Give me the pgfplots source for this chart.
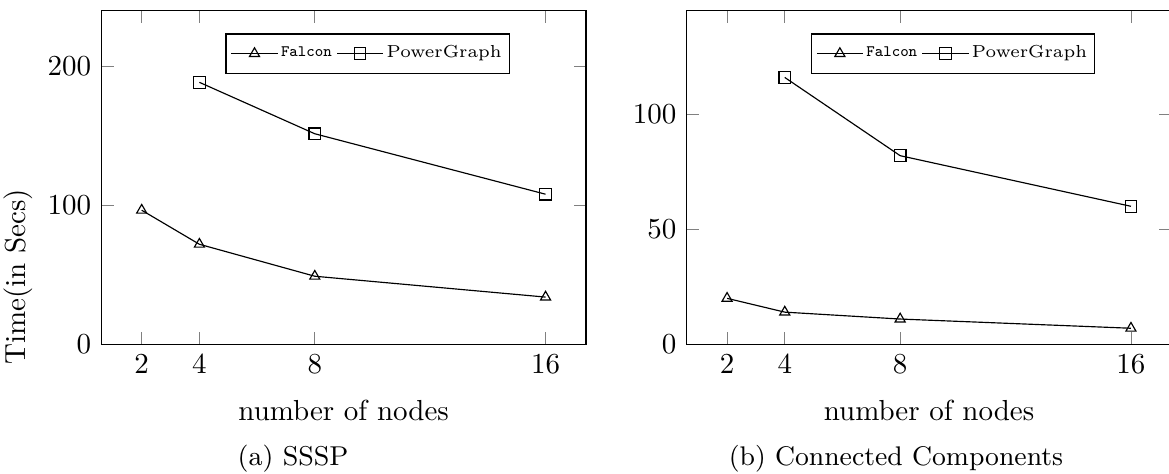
\documentclass[border=0pt]{standalone}
\usepackage{pgfplots}
\pgfplotsset{compat=1.18}
\pgfplotsset{
  myaxis/.style={
    scale only axis, anchor=south west,
    width=167.2pt, height=115.1pt,
    xmin=0.6, xmax=17.4, ymin=0,
    xtick={2,4,8,16},
    tick label style={font=\fontsize{10.4}{12}\selectfont},
    label style={font=\fontsize{10}{12}\selectfont},
    xlabel={number of nodes},
    xlabel style={at={(axis description cs:0.5,-0.199)}, anchor=center},
    legend columns=2,
    legend image code/.code={%
      \draw[mark repeat=2,mark phase=2,##1] plot coordinates {(0pt,0pt) (7.95pt,0pt) (15.9pt,0pt)};},
    legend style={at={(0.256,0.932)}, anchor=north west,
      font=\fontsize{6}{7}\selectfont,
      inner xsep=1.7pt, inner ysep=2.9pt,
      nodes={inner sep=1pt},
      /tikz/every even column/.append style={column sep=0.6pt}},
    every axis plot/.append style={black, thin, mark options={solid}},
  }
}
\begin{document}
\begin{tikzpicture}
\path[use as bounding box] (0pt,0pt) rectangle (403.3pt,163.2pt);
\begin{axis}[myaxis, at={(34.95pt,44.4pt)}, ymax=240, ytick={0,100,200},
  ylabel={Time(in Secs)},
  ylabel style={at={(axis description cs:-0.172,0.202)}, anchor=center}]
\addplot[mark=triangle] coordinates {(2,96.5) (4,72) (8,49) (16,34)};
\addlegendentry{{\fontsize{5.5}{7}\selectfont\texttt{Falcon}}}
\addplot[mark=square] coordinates {(4,188.5) (8,151.5) (16,108)};
\addlegendentry{PowerGraph\hspace{3.5pt}}
\end{axis}
\begin{axis}[myaxis, at={(236.9pt,44.4pt)}, ymax=145, ytick={0,50,100}]
\addplot[mark=triangle] coordinates {(2,20) (4,14) (8,11) (16,7)};
\addlegendentry{{\fontsize{5.5}{7}\selectfont\texttt{Falcon}}}
\addplot[mark=square] coordinates {(4,116) (8,82) (16,60)};
\addlegendentry{PowerGraph\hspace{3.5pt}}
\end{axis}
\node[anchor=base, font=\fontsize{9.4}{11}\selectfont] at (101.1pt,2.76pt) {(a) SSSP};
\node[anchor=base, font=\fontsize{9.3}{11}\selectfont] at (309.1pt,2.76pt) {(b) Connected Components};
\end{tikzpicture}
\end{document}
